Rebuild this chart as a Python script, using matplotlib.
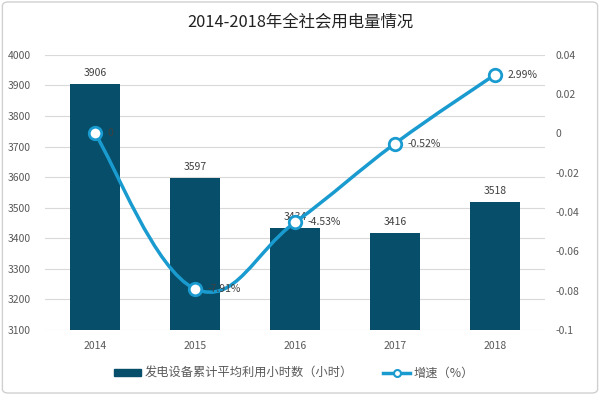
import numpy as np
import matplotlib

matplotlib.rcParams["font.family"] = ["Noto Sans CJK SC", "DejaVu Sans"]
import matplotlib.pyplot as plt
from matplotlib.path import Path
from matplotlib.patches import PathPatch, FancyBboxPatch
from matplotlib.lines import Line2D
from matplotlib.patches import Patch

years = ["2014", "2015", "2016", "2017", "2018"]
hours = [3906, 3597, 3434, 3416, 3518]
growth = [0.0, -0.0791, -0.0453, -0.0052, 0.0299]
growth_labels = ["0", "-7.91%", "-4.53%", "-0.52%", "2.99%"]

BAR_C = "#064e69"
LINE_C = "#1a9bd0"
TXT_C = "#595959"

fig = plt.figure(figsize=(6, 3.95), dpi=100)
fig.patches.append(FancyBboxPatch((0.004, 0.005), 0.992, 0.99, boxstyle="round,pad=0,rounding_size=0.01",
                                  transform=fig.transFigure, fill=False, ec="#d0d0d0", lw=1))
ax = fig.add_axes([0.075, 0.165, 0.833, 0.696])
ax2 = ax.twinx()

x = np.arange(len(years))
ax.bar(x, hours, width=0.5, color=BAR_C, zorder=2)
for xi, h in zip(x, hours):
    ax.text(xi, h + 20, str(h), ha="center", va="bottom", fontsize=7.5, color="#404040")
ax.set_ylim(3100, 4000)
ax.set_yticks(range(3100, 4001, 100))
ax.set_xlim(-0.5, 4.5)
ax.set_xticks(x)
ax.set_xticklabels(years)
ax.yaxis.grid(True, color="#d9d9d9", lw=0.8, zorder=0)
ax.set_axisbelow(True)
for s in ax.spines.values():
    s.set_visible(False)
for s in ax2.spines.values():
    s.set_visible(False)
ax.tick_params(length=0, labelsize=7.5, labelcolor=TXT_C)
ax.tick_params(axis="x", pad=8)
ax.tick_params(axis="y", pad=10)

ax2.set_ylim(-0.1, 0.04)
ax2.set_yticks([-0.1, -0.08, -0.06, -0.04, -0.02, 0, 0.02, 0.04])
ax2.set_yticklabels(["-0.1", "-0.08", "-0.06", "-0.04", "-0.02", "0", "0.02", "0.04"])
ax2.tick_params(length=0, labelsize=7.5, labelcolor=TXT_C, pad=8)

# smooth line (Bezier through the points, like Excel)
pts = np.column_stack([x, growth]).astype(float)
verts = [tuple(pts[0])]
codes = [Path.MOVETO]
t = 0.2
for i in range(len(pts) - 1):
    p0 = pts[i - 1] if i > 0 else pts[i]
    p1, p2 = pts[i], pts[i + 1]
    p3 = pts[i + 2] if i + 2 < len(pts) else pts[i + 1]
    c1 = p1 + (p2 - p0) * t
    c2 = p2 - (p3 - p1) * t
    verts += [tuple(c1), tuple(c2), tuple(p2)]
    codes += [Path.CURVE4] * 3
ax2.add_patch(PathPatch(Path(verts, codes), fill=False, ec=LINE_C, lw=2.5, zorder=3))
ax2.plot(x, growth, ls="none", marker="o", ms=9, mfc="white", mec=LINE_C, mew=2, zorder=4)
for xi, g, lab in zip(x, growth, growth_labels):
    ax2.annotate(lab, (xi, g), xytext=(9, 0), textcoords="offset points", va="center", ha="left",
                 fontsize=7.5, color="#404040", zorder=5)

fig.text(0.5, 0.945, "2014-2018年全社会用电量情况", ha="center", va="center", fontsize=11.8, color="#222222")

handles = [Patch(color=BAR_C),
           Line2D([0], [0], color=LINE_C, lw=2.5, marker="o", ms=5, mfc="white", mec=LINE_C, mew=1.5)]
fig.legend(handles, ["发电设备累计平均利用小时数（小时）", "增速（%）"], loc="center", bbox_to_anchor=(0.49, 0.055),
           ncol=2, frameon=False, fontsize=8.8, labelcolor=TXT_C, handlelength=2.2, columnspacing=2.5,
           handletextpad=0.3, handleheight=0.5)

fig.savefig("out.png", dpi=100)
